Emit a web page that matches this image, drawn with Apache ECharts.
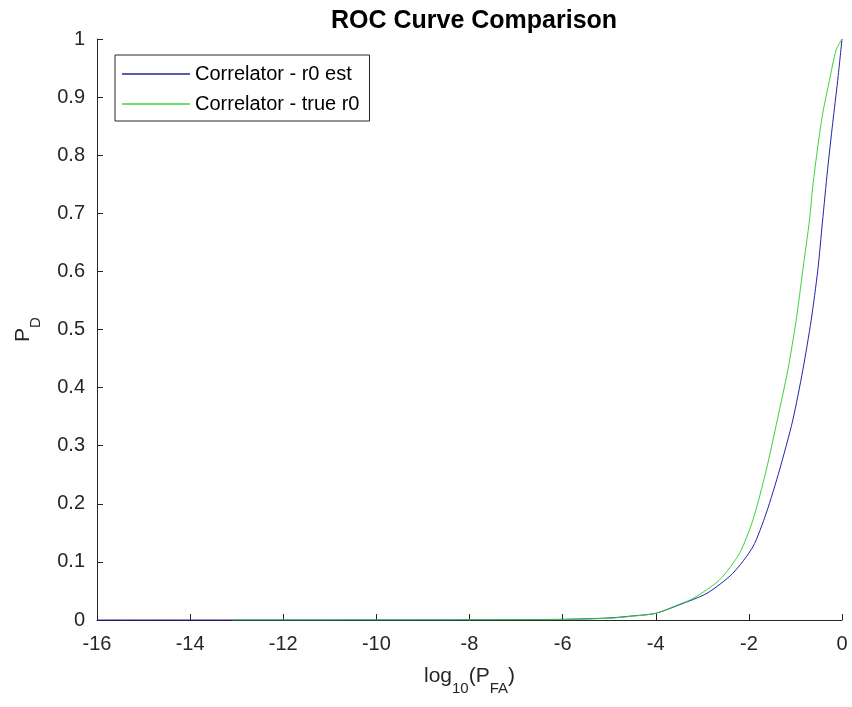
<!DOCTYPE html>
<html>
<head>
<meta charset="utf-8">
<script src="https://cdn.jsdelivr.net/npm/echarts@6/dist/echarts.min.js"></script>
<style>
html,body{margin:0;padding:0;background:#fff;}
#c{width:852px;height:707px;}
</style>
</head>
<body>
<div id="c"></div>
<script>
// log10(PFA) and PD for each curve
var estX = [-16, -14, -12, -10, -8, -6, -5, -4.5, -4, -3.5, -2.9, -2.35, -1.914, -1.627, -1.342, -1.057, -0.842, -0.662, -0.52, -0.42, -0.31, -0.2, -0.092, 0];
var estY = [0, 0, 0, 0.0001, 0.0003, 0.0012, 0.0035, 0.007, 0.0115, 0.026, 0.046, 0.080, 0.126, 0.184, 0.258, 0.344, 0.430, 0.516, 0.602, 0.685, 0.775, 0.855, 0.929, 1.0];
var trueX = [-13.1, -12, -10, -8, -6, -5, -4.5, -4, -3.5, -3.2, -2.63, -2.2, -1.914, -1.627, -1.39, -1.164, -0.984, -0.842, -0.699, -0.628, -0.52, -0.414, -0.27, -0.126, 0];
var trueY = [0, 0, 0.0001, 0.0002, 0.0008, 0.003, 0.0065, 0.0115, 0.027, 0.037, 0.069, 0.115, 0.172, 0.258, 0.344, 0.430, 0.516, 0.602, 0.688, 0.746, 0.815, 0.872, 0.929, 0.981, 1.0];
var seriesNames = ['Correlator - r0 est', 'Correlator - true r0'];
var xMin = -16, xMax = 0, xStep = 2;
var yMin = 0, yMax = 1, yStep = 0.1;

function pairs(xs, ys){ return xs.map(function(x,i){ return [x, ys[i]]; }); }

var font = '"Liberation Sans", Arial, Helvetica, sans-serif';
var axisColor = '#262626';
var nameRich = {
  a: {fontFamily: font, fontSize: 21, lineHeight: 21, color: axisColor, padding: [0, 0, 13, 0]},
  s: {fontFamily: font, fontSize: 15, lineHeight: 15, color: axisColor, padding: [13, 0, 0, 0]}
};
var chart = echarts.init(document.getElementById('c'));
chart.setOption({
  animation: false,
  backgroundColor: '#ffffff',
  title: {
    text: 'ROC Curve Comparison',
    left: 469, top: 4, textAlign: 'center',
    textStyle: {fontFamily: font, fontSize: 25, fontWeight: 'bold', color: '#000'}
  },
  grid: {left: 97, right: 10, top: 39, bottom: 87, containLabel: false},
  legend: {
    orient: 'vertical', left: 115, top: 55,
    padding: [9, 10, 7, 7],
    itemGap: 10, itemWidth: 68, itemHeight: 1.5, icon: 'rect',
    backgroundColor: '#fff', borderColor: '#262626', borderWidth: 1,
    textStyle: {fontFamily: font, fontSize: 20, lineHeight: 18, color: '#000'},
    data: seriesNames
  },
  xAxis: {
    type: 'value', min: xMin, max: xMax, interval: xStep,
    name: '{a|log}{s|10}{a|(P}{s|FA}{a|)}',
    nameLocation: 'middle', nameGap: 52,
    nameTextStyle: {fontFamily: font, color: axisColor, rich: nameRich},
    axisLine: {show: true, onZero: false, lineStyle: {color: axisColor, width: 1}},
    axisTick: {show: true, inside: true, length: 6, lineStyle: {color: axisColor}},
    axisLabel: {fontFamily: font, fontSize: 20, color: axisColor, margin: 14},
    splitLine: {show: false}
  },
  yAxis: {
    type: 'value', min: yMin, max: yMax, interval: yStep,
    name: '{a|P}{s|D}',
    nameLocation: 'middle', nameGap: 57, nameRotate: 90,
    nameTextStyle: {fontFamily: font, color: axisColor, rich: nameRich},
    axisLine: {show: true, onZero: false, lineStyle: {color: axisColor, width: 1}},
    axisTick: {show: true, inside: true, length: 6, lineStyle: {color: axisColor}},
    axisLabel: {fontFamily: font, fontSize: 20, color: axisColor, margin: 12},
    splitLine: {show: false}
  },
  series: [
    {
      name: seriesNames[0], type: 'line', data: pairs(estX, estY),
      showSymbol: false, symbol: 'none', smooth: 0.25,
      lineStyle: {color: '#2222a8', width: 1}, itemStyle: {color: '#2222a8'}
    },
    {
      name: seriesNames[1], type: 'line', data: pairs(trueX, trueY),
      showSymbol: false, symbol: 'none', smooth: 0.25,
      lineStyle: {color: '#3ad23a', width: 1}, itemStyle: {color: '#3ad23a'}
    }
  ]
});
</script>
</body>
</html>
